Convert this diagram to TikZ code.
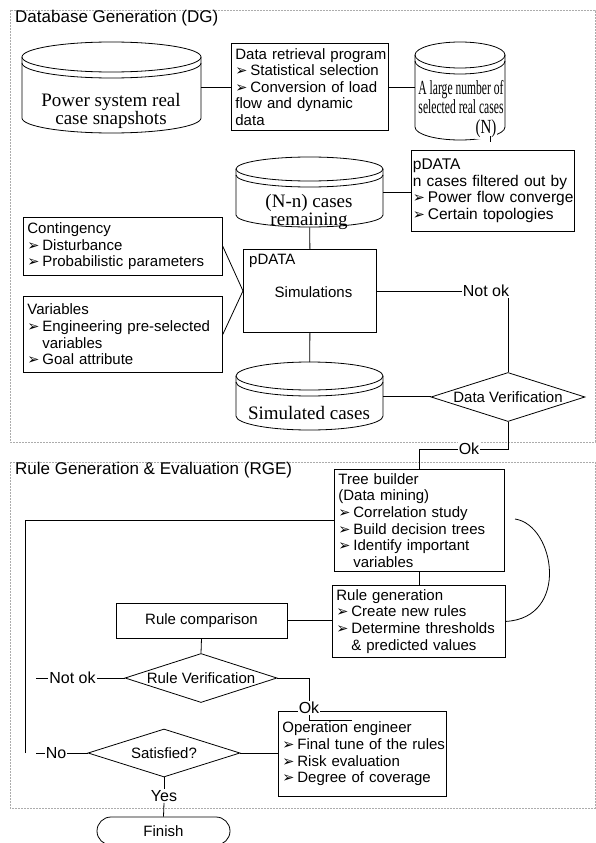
\documentclass[tikz,border=0pt]{standalone}
\usepackage{fontspec}
\usepackage{graphicx}
\setmainfont{Liberation Sans}
\newfontfamily\seriffam{Liberation Serif}
\newfontfamily\dejavu{DejaVu Sans}
\usetikzlibrary{shapes.geometric}

\newcommand\fsz[2]{\fontsize{#1}{#2}\selectfont}
\newcommand\bl{\makebox[15pt][l]{\dejavu\fontsize{14.5}{14}\selectfont ➢}}

% #1 name, #2 x1, #3 x2, #4 ytop, #5 ybot, #6 ry, #7 band
\newcommand\dbcyl[7]{%
  \pgfmathsetmacro\cyX{(#2+#3)/2}%
  \pgfmathsetmacro\cyR{(#3-#2)/2}%
  \pgfmathsetmacro\cyT{-(#4)-(#6)}%
  \pgfmathsetmacro\cyB{-(#5)+(#6)}%
  \pgfmathsetmacro\cyD{\cyT-(#7)}%
  \pgfmathsetmacro\cyW{#3-#2}%
  \pgfmathsetmacro\cyH{#5-#4}%
  \draw[cylline] (\cyX,\cyT) ellipse [x radius=\cyR, y radius=#6];
  \draw[cylline] (#2,\cyT) -- (#2,\cyB) arc[start angle=180, end angle=360, x radius=\cyR, y radius=#6] -- (#3,\cyT);
  \draw[cylline] (#2,\cyD) arc[start angle=180, end angle=360, x radius=\cyR, y radius=#6];
  \node[inner sep=0pt, minimum width=\cyW pt, minimum height=\cyH pt, anchor=north west] (#1) at (#2,-#4) {};
}

\tikzset{
  cylline/.style={line width=0.8pt},
  conn/.style={draw, line width=0.8pt},
  box/.style={draw, line width=0.8pt, align=left, inner xsep=4pt, inner ysep=0pt, anchor=north west, font=\fsz{15}{16.6}},
  dia/.style={draw, diamond, line width=0.8pt, inner sep=0pt},
  dialbl/.style={font=\fsz{15}{16.6}, inner sep=0pt},
  lbl/.style={inner sep=1pt, font=\fsz{16}{17}},
  region/.style={draw=gray!65, dash pattern=on 2pt off 1pt, line width=0.6pt},
  cyltext/.style={align=center, inner sep=0pt, font=\seriffam\fsz{19}{18}},
  ttl/.style={anchor=west, inner sep=0pt, font=\fsz{17}{20}},
}

\begin{document}
\begin{tikzpicture}[x=1pt,y=1pt]
\path[use as bounding box, fill=white] (0,0) rectangle (596,-843);

% regions
\draw[region] (10,-10) rectangle (595,-442);
\draw[region] (10,-462) rectangle (595,-808);
\node[ttl] (dgt) at (15,-18) {Database Generation (DG)};
\node[ttl] (rget) at (15,-470) {Rule Generation \& Evaluation (RGE)};

% ---------- DG ----------
\dbcyl{cylA}{22}{201}{42}{133}{15}{6}
\node[cyltext] (cylAt) at (111,-111) {Power system real\\case snapshots};

\node[box, text width=149pt, minimum height=87pt] (dr) at (231,-43)
 {\mbox{Data retrieval program}\\\mbox{\bl Statistical selection}\\\mbox{\bl Conversion of load}\\flow and dynamic\\data};

\dbcyl{cylB}{415}{505}{42}{140}{13}{6}
\node[cyltext, font=\seriffam\fsz{20}{18.5}] (cylBt) at (461,-97) {\scalebox{0.58}[1]{A large number of}\\\scalebox{0.58}[1]{selected real cases}};
\node[cyltext, fill=white, inner sep=1pt, font=\seriffam\fsz{20}{18.5}] (cylBn) at (486,-129) {\scalebox{0.75}[1]{(N)}};
\coordinate (tickA) at (490,-136);
\coordinate (tickB) at (490,-142);

\dbcyl{cylC}{236}{383}{157}{227}{12}{6}
\node[cyltext] (cylCt) at (309,-212) {(N-n) cases\\remaining};

\node[box, inner xsep=1.5pt, text width=160pt, minimum height=81pt, font=\fsz{15.5}{16.7}] (pf) at (411,-150)
 {pDATA\\\mbox{n cases filtered out by}\\\mbox{\bl Power flow converge}\\\mbox{\bl Certain topologies}};

\node[box, text width=191pt, minimum height=58pt] (cont) at (23,-217)
 {Contingency\\\bl Disturbance\\\mbox{\bl Probabilistic parameters}};

\node[box, text width=191pt, minimum height=76pt] (var) at (23,-296)
 {Variables\\\mbox{\bl Engineering pre-selected}\\\hspace*{15pt}variables\\\bl Goal attribute};

\node[draw, line width=0.8pt, minimum width=133pt, minimum height=83pt, anchor=north west] (sim) at (243,-249) {};
\node[anchor=west, inner sep=0pt, font=\fsz{15}{16.6}] (simP) at (249,-261) {pDATA};
\node[inner sep=0pt, font=\fsz{15}{16.6}] (simT) at (313.5,-292) {Simulations};

\dbcyl{cylD}{236}{383}{362}{430}{14}{6}
\node[cyltext] (cylDt) at (309,-413) {Simulated cases};

\node[dia, minimum width=154pt, minimum height=49pt] (dv) at (508,-397) {};
\node[dialbl] (dvt) at (dv.center) {Data Verification};
\node[lbl] (notokA) at (486,-291) {Not ok};
\node[lbl, fill=white] (okA) at (469,-449) {Ok};

% DG connectors
\draw[conn] (cylA.east |- dr.west) -- (dr.west);
\draw[conn] (dr.east) -- (dr.east -| cylB.west);
\draw[conn] (tickA) -- (tickB);
\draw[conn] (cylC.east) -- (cylC.east -| pf.west);
\draw[conn] (cylC.south) -- (sim.north);
\draw[conn] (cont.east) -- (sim.west);
\draw[conn] (var.east) -- (sim.west);
\draw[conn] (sim.south) -- (cylD.north);
\draw[conn] (sim.east) -- (sim.east -| notokA.west);
\draw[conn] (notokA.south -| dv.north) -- (dv.north);
\draw[conn] (cylD.east) -- (cylD.east -| dv.west);
\draw[conn] (dv.south) |- (okA.east);

% ---------- RGE ----------
\node[box, text width=162pt, minimum height=102pt] (tb) at (334,-469)
 {Tree builder\\(Data mining)\\\mbox{\bl Correlation study}\\\mbox{\bl Build decision trees}\\\mbox{\bl Identify important}\\\hspace*{15pt}variables};
\draw[conn] (okA.west) -| (tb.north);

\node[box, text width=165pt, minimum height=72pt] (rg) at (332,-585)
 {Rule generation\\\bl Create new rules\\\mbox{\bl Determine thresholds}\\\hspace*{15pt}\& predicted values};

\node[draw, line width=0.8pt, minimum width=171pt, minimum height=35pt, font=\fsz{15}{16.6}] (rc) at (201.5,-620.5) {Rule comparison};

\node[dia, minimum width=152pt, minimum height=49pt] (rv) at (201,-678) {};
\node[dialbl] (rvt) at (rv.center) {Rule Verification};
\node[dia, minimum width=152pt, minimum height=48pt] (sat) at (164,-753) {};
\node[dialbl] (satt) at (sat.center) {Satisfied?};

\node[box, text width=160pt, minimum height=85pt] (op) at (278,-711)
 {Operation engineer\\\mbox{\bl Final tune of the rules}\\\bl Risk evaluation\\\mbox{\bl Degree of coverage}};

\node[lbl, fill=white] (okB) at (309,-708) {Ok};
\node[lbl] (notokB) at (72.5,-678) {Not ok};
\node[lbl] (noL) at (56,-753) {No};
\node[lbl] (yesL) at (164,-796) {Yes};
\node[draw, line width=0.8pt, rounded corners=14pt, minimum width=133pt, minimum height=28pt, font=\fsz{15}{16.6}] (fin) at (163.5,-831) {Finish};

\coordinate (tbc) at (515,-519);
\coordinate (Lb) at (25,-753);
\coordinate (nk) at (36,-678);
\coordinate (nn) at (36,-753);
\coordinate (okEnd) at (352,-720);

% RGE connectors
\draw[conn] (tb.south) -- (tb.south |- rg.north);
\draw[conn] (tbc) .. controls (555,-525) and (570,-618) .. (rg.east);
\draw[conn] (Lb) |- (tb.west);
\draw[conn] (rc.east) -- (rc.east -| rg.west);
\draw[conn] (rc.south) -- (rv.north);
\draw[conn] (nk) -- (notokB.west);
\draw[conn] (notokB.east) -- (rv.west);
\draw[conn] (rv.east) -| (okB.north);
\draw[conn] (okB.south) |- (okEnd);
\draw[conn] (nn) -- (noL.west);
\draw[conn] (noL.east) -- (sat.west);
\draw[conn] (sat.east) -- (sat.east -| op.west);
\draw[conn] (sat.south) -- (yesL.north);
\draw[conn] (yesL.south) -- (fin.north);
\end{tikzpicture}
\end{document}
